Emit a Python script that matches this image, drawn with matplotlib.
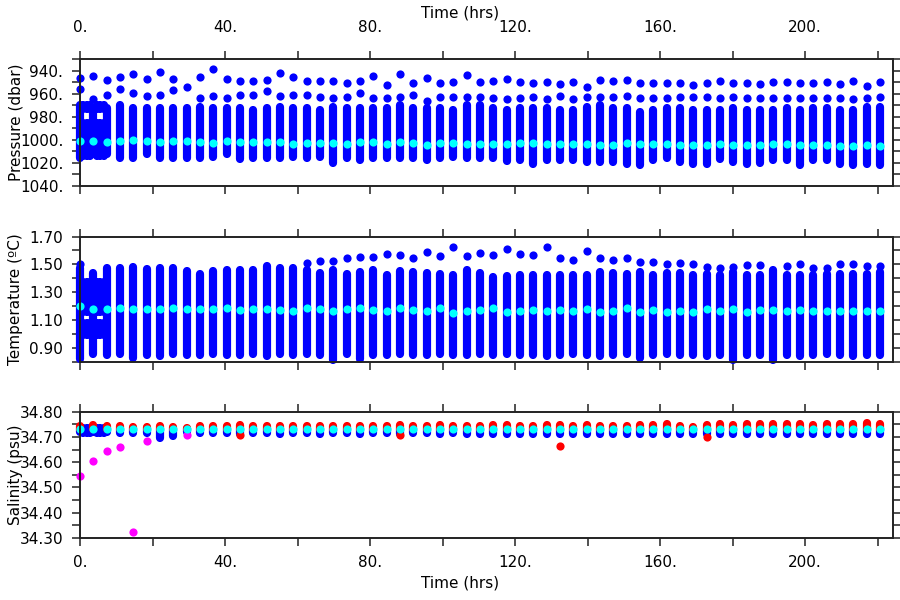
import matplotlib
matplotlib.use("Agg")
import matplotlib.pyplot as plt
from matplotlib.ticker import MultipleLocator, FixedLocator, FuncFormatter

# cast times (hrs)
cast_hours = [0.00, 3.68, 7.35, 11.03, 14.71, 18.39, 22.06, 25.74, 29.42, 33.09,
              36.77, 40.45, 44.12, 47.80, 51.48, 55.16, 58.83, 62.51, 66.19, 69.86,
              73.54, 77.22, 80.89, 84.57, 88.25, 91.93, 95.60, 99.28, 102.96, 106.63,
              110.31, 113.99, 117.66, 121.34, 125.02, 128.70, 132.37, 136.05, 139.73, 143.40,
              147.08, 150.76, 154.43, 158.11, 161.79, 165.47, 169.14, 172.82, 176.50, 180.17,
              183.85, 187.53, 191.20, 194.88, 198.56, 202.24, 205.91, 209.59, 213.27, 216.94,
              220.62]
nan = float("nan")

# extra closely spaced casts at the start of the record
early_hours = [0.9, 1.8, 2.8, 4.6, 5.5, 6.5]

# ---- pressure (dbar)
p_top1 = [946.0, 944.5, 948.0, 945.1, 942.8, 946.6, 940.8, 946.8, 954.1, 945.4,
          938.5, 946.6, 948.6, 948.9, 948.0, 942.2, 945.7, 948.6, 948.6, 948.6,
          950.3, 948.6, 944.5, 952.6, 942.8, 950.3, 946.0, 950.3, 949.7, 943.7,
          949.5, 948.6, 946.6, 949.5, 950.3, 950.0, 951.5, 950.0, 954.4, 947.7,
          948.9, 947.7, 950.6, 950.6, 950.3, 950.6, 952.3, 950.3, 948.9, 950.6,
          950.9, 951.8, 950.0, 950.0, 950.6, 950.9, 949.5, 951.2, 948.6, 952.9,
          950.0]
p_top2 = [956.1, 964.8, 961.0, 955.5, 959.6, 961.9, 960.5, 957.0, nan, 963.9,
          961.9, 963.3, 961.0, 961.0, 957.6, 961.9, 961.0, 960.5, 962.5, 963.3,
          962.5, 959.0, 963.3, 963.9, 962.5, 960.5, 965.9, 963.0, 962.5, 962.5,
          962.5, 963.3, 964.8, 963.3, 962.5, 964.8, 961.6, 964.2, 962.8, 962.8,
          962.8, 962.2, 963.3, 963.9, 963.3, 963.0, 962.8, 962.8, 963.3, 963.0,
          963.3, 963.3, 963.9, 963.3, 963.3, 963.9, 963.3, 963.3, 964.2, 963.9,
          962.5]
p_col_top = [969.7, 972.6, 972.6, 969.7, 972.6, 972.6, 972.6, 972.6, 972.0, 971.2,
             972.6, 972.6, 972.6, 974.0, 972.6, 971.2, 972.6, 972.6, 974.0, 971.2,
             972.6, 972.6, 972.6, 972.6, 969.7, 972.6, 972.6, 972.6, 974.0, 969.7,
             969.7, 972.6, 974.0, 972.6, 972.6, 972.6, 974.0, 974.0, 971.2, 969.7,
             972.6, 972.6, 975.5, 974.0, 972.6, 972.0, 974.0, 974.0, 974.0, 972.6,
             974.0, 974.0, 974.0, 972.6, 974.0, 972.6, 972.6, 974.0, 974.0, 971.2,
             971.2]
p_col_bot = [1015.4, 1012.5, 1012.5, 1015.4, 1015.4, 1012.5, 1015.4, 1015.4, 1015.4, 1015.4,
             1014.6, 1012.5, 1016.6, 1015.4, 1015.4, 1015.4, 1014.6, 1015.4, 1014.6, 1019.8,
             1015.4, 1017.5, 1015.4, 1015.4, 1015.4, 1015.4, 1017.8, 1015.4, 1014.6, 1016.0,
             1015.4, 1015.4, 1018.3, 1017.8, 1021.2, 1017.8, 1017.8, 1017.8, 1018.9, 1018.9,
             1018.9, 1021.2, 1021.8, 1017.8, 1015.4, 1018.9, 1020.6, 1021.2, 1016.6, 1018.9,
             1021.2, 1019.8, 1017.8, 1017.8, 1021.8, 1017.8, 1017.8, 1021.2, 1021.8, 1021.2,
             1021.8]
p_mean = [1001.0, 1001.0, 1001.5, 1001.0, 1000.4, 1001.0, 1001.5, 1001.0, 1001.0, 1001.5,
          1002.4, 1001.0, 1002.1, 1002.1, 1001.5, 1001.5, 1003.3, 1002.4, 1003.0, 1003.0,
          1003.9, 1002.1, 1001.5, 1003.3, 1002.1, 1003.0, 1004.4, 1003.0, 1003.0, 1003.3,
          1003.3, 1003.3, 1003.3, 1003.0, 1003.0, 1003.9, 1003.9, 1003.9, 1003.3, 1004.4,
          1004.4, 1002.4, 1003.9, 1003.3, 1003.6, 1004.4, 1004.4, 1004.4, 1003.9, 1004.4,
          1004.4, 1004.4, 1003.3, 1003.3, 1004.4, 1004.4, 1004.4, 1005.0, 1005.0, 1004.4,
          1005.3]
early_p_lo = [969.5, 985.0]
early_p_hi = [973.0, 1013.5]

# ---- temperature (deg C)
t_top = [1.505, nan, nan, nan, nan, nan, nan, nan, nan, nan,
         nan, nan, nan, nan, nan, nan, nan, 1.510, 1.522, 1.522,
         1.548, 1.553, 1.553, 1.577, 1.565, 1.546, 1.589, 1.558, 1.621, 1.558,
         1.584, 1.565, 1.609, 1.572, 1.570, 1.625, 1.548, 1.529, 1.596, 1.548,
         1.529, 1.546, 1.517, 1.517, 1.505, 1.512, 1.500, 1.481, 1.474, 1.483,
         1.493, 1.493, nan, 1.488, 1.500, 1.474, 1.476, 1.500, 1.500, 1.486,
         1.486]
t_col_top = [1.470, 1.440, 1.476, 1.476, 1.481, 1.469, 1.476, 1.474, 1.450, 1.433,
             1.450, 1.459, 1.459, 1.459, 1.488, 1.474, 1.474, 1.457, 1.440, 1.457,
             1.430, 1.445, 1.457, 1.426, 1.450, 1.445, 1.440, 1.430, 1.426, 1.462,
             1.438, 1.409, 1.416, 1.426, 1.426, 1.426, 1.421, 1.426, 1.421, 1.445,
             1.440, 1.433, 1.445, 1.426, 1.440, 1.440, 1.421, 1.433, 1.426, 1.445,
             1.426, 1.426, 1.457, 1.426, 1.426, 1.426, 1.433, 1.433, 1.433, 1.433,
             1.445]
t_col_bot = [0.815, 0.855, 0.848, 0.855, 0.825, 0.848, 0.838, 0.855, 0.848, 0.848,
             0.855, 0.848, 0.848, 0.855, 0.838, 0.855, 0.848, 0.855, 0.848, 0.812,
             0.855, 0.815, 0.848, 0.848, 0.855, 0.848, 0.848, 0.855, 0.848, 0.848,
             0.855, 0.848, 0.855, 0.848, 0.848, 0.838, 0.848, 0.855, 0.848, 0.838,
             0.848, 0.855, 0.825, 0.848, 0.855, 0.848, 0.848, 0.838, 0.848, 0.812,
             0.848, 0.848, 0.812, 0.848, 0.838, 0.848, 0.855, 0.848, 0.838, 0.848,
             0.848]
t_mean = [1.199, 1.180, 1.180, 1.185, 1.175, 1.180, 1.175, 1.185, 1.180, 1.175,
          1.175, 1.187, 1.168, 1.175, 1.180, 1.173, 1.163, 1.185, 1.180, 1.161,
          1.175, 1.185, 1.168, 1.161, 1.185, 1.168, 1.161, 1.185, 1.149, 1.163,
          1.168, 1.185, 1.156, 1.163, 1.168, 1.166, 1.168, 1.161, 1.180, 1.156,
          1.161, 1.185, 1.156, 1.173, 1.156, 1.166, 1.156, 1.175, 1.161, 1.178,
          1.154, 1.168, 1.168, 1.161, 1.168, 1.161, 1.166, 1.166, 1.166, 1.166,
          1.163]
early_t_lo = [1.290, 1.160, 0.990]
early_t_hi = [1.370, 1.250, 1.080]

# ---- salinity (psu)
s_red_top = [34.744, 34.746, 34.744, 34.744, 34.740, 34.740, 34.744, 34.740, 34.737, 34.744,
             34.744, 34.744, 34.746, 34.744, 34.744, 34.744, 34.744, 34.744, 34.744, 34.744,
             34.744, 34.744, 34.744, 34.744, 34.746, 34.744, 34.744, 34.746, 34.744, 34.744,
             34.744, 34.746, 34.746, 34.744, 34.744, 34.746, 34.746, 34.744, 34.746, 34.744,
             34.744, 34.744, 34.746, 34.746, 34.750, 34.744, 34.740, 34.746, 34.750, 34.746,
             34.750, 34.753, 34.750, 34.750, 34.750, 34.746, 34.750, 34.750, 34.753, 34.756,
             34.750]
s_blue_bot = [34.718, 34.718, 34.718, 34.715, 34.715, 34.715, 34.696, 34.702, 34.718, 34.715,
              34.715, 34.715, 34.713, 34.715, 34.715, 34.713, 34.715, 34.715, 34.713, 34.715,
              34.715, 34.713, 34.715, 34.715, 34.713, 34.715, 34.715, 34.713, 34.715, 34.713,
              34.713, 34.713, 34.711, 34.713, 34.713, 34.711, 34.713, 34.713, 34.711, 34.713,
              34.713, 34.711, 34.713, 34.713, 34.711, 34.713, 34.713, 34.711, 34.713, 34.711,
              34.713, 34.711, 34.713, 34.713, 34.711, 34.713, 34.711, 34.711, 34.713, 34.711,
              34.711]
s_mean = [34.731, 34.731, 34.731, 34.731, 34.731, 34.730, 34.731, 34.731, 34.732, 34.731,
          34.731, 34.731, 34.731, 34.731, 34.731, 34.731, 34.731, 34.731, 34.731, 34.731,
          34.731, 34.731, 34.731, 34.731, 34.731, 34.731, 34.731, 34.731, 34.731, 34.731,
          34.731, 34.731, 34.731, 34.731, 34.730, 34.731, 34.730, 34.731, 34.731, 34.730,
          34.731, 34.730, 34.731, 34.731, 34.731, 34.731, 34.730, 34.730, 34.731, 34.731,
          34.731, 34.731, 34.730, 34.731, 34.731, 34.730, 34.731, 34.731, 34.731, 34.731,
          34.731]
s_magenta = [34.546, 34.604, 34.645, 34.659, 34.324, 34.683, nan, nan, 34.706]
red_low_cast = [12, 24, 36, 47]
red_low_sal = [34.706, 34.706, 34.663, 34.698]
early_s_lo = [34.716]
early_s_hi = [34.736]

BLUE = "#0000ff"
CYAN = "#00ffff"
RED = "#ff0000"
MAGENTA = "#ff00ff"
FRAME = "#222222"
DOT = 5.9

plt.rcParams["font.family"] = "DejaVu Sans"
plt.rcParams["font.size"] = 11

fig = plt.figure(figsize=(9, 6), dpi=100)
ax_p = fig.add_axes([0.0889, 0.690, 0.9033, 0.2110])
ax_t = fig.add_axes([0.0889, 0.3975, 0.9033, 0.2083])
ax_s = fig.add_axes([0.0889, 0.1038, 0.9033, 0.2100])


def columns(ax, xs, lo, hi, color):
    ax.vlines(xs, lo, hi, colors=color, linewidth=DOT, capstyle="round", clip_on=False)


def dots(ax, xs, ys, color):
    ax.plot(xs, ys, "o", color=color, markersize=DOT, markeredgewidth=0, clip_on=False)


# pressure panel
columns(ax_p, cast_hours, p_col_top, p_col_bot, BLUE)
for lo, hi in zip(early_p_lo, early_p_hi):
    columns(ax_p, early_hours, [lo] * len(early_hours), [hi] * len(early_hours), BLUE)
dots(ax_p, cast_hours, p_top1, BLUE)
dots(ax_p, cast_hours, p_top2, BLUE)
dots(ax_p, cast_hours, p_mean, CYAN)

# temperature panel
columns(ax_t, cast_hours, t_col_bot, t_col_top, BLUE)
for lo, hi in zip(early_t_lo, early_t_hi):
    columns(ax_t, early_hours, [lo] * len(early_hours), [hi] * len(early_hours), BLUE)
dots(ax_t, cast_hours, t_top, BLUE)
dots(ax_t, cast_hours, t_mean, CYAN)

# salinity panel
columns(ax_s, cast_hours, s_blue_bot, s_mean, BLUE)
for lo, hi in zip(early_s_lo, early_s_hi):
    columns(ax_s, early_hours, [lo] * len(early_hours), [hi] * len(early_hours), BLUE)
columns(ax_s, cast_hours, s_mean, s_red_top, RED)
dots(ax_s, [cast_hours[i] for i in red_low_cast], red_low_sal, RED)
dots(ax_s, cast_hours[:len(s_magenta)], s_magenta, MAGENTA)
dots(ax_s, cast_hours, s_mean, CYAN)

# axes styling
for ax in (ax_p, ax_t, ax_s):
    ax.set_xlim(0, 224.2)
    ax.xaxis.set_major_locator(FixedLocator([0, 40, 80, 120, 160, 200]))
    ax.xaxis.set_minor_locator(FixedLocator([20, 60, 100, 140, 180, 220]))
    ax.xaxis.set_major_formatter(FuncFormatter(lambda v, pos: f"{v:.0f}."))
    ax.tick_params(which="both", direction="out", length=6, width=1.1, color=FRAME,
                   top=True, right=True, labeltop=False, labelbottom=False,
                   labelsize=11, pad=6)
    for sp in ax.spines.values():
        sp.set_linewidth(1.4)
        sp.set_color(FRAME)

ax_p.set_ylim(1040, 930)
ax_p.yaxis.set_major_locator(MultipleLocator(20))
ax_p.yaxis.set_minor_locator(MultipleLocator(10))
ax_p.yaxis.set_major_formatter(FuncFormatter(lambda v, pos: f"{v:.0f}."))
ax_p.set_ylabel("Pressure (dbar)")

ax_t.set_ylim(0.80, 1.70)
ax_t.yaxis.set_major_locator(FixedLocator([0.9, 1.1, 1.3, 1.5, 1.7]))
ax_t.yaxis.set_minor_locator(MultipleLocator(0.1))
ax_t.yaxis.set_major_formatter(FuncFormatter(lambda v, pos: f"{v:.2f}"))
ax_t.set_ylabel("Temperature (\u00baC)")

ax_s.set_ylim(34.30, 34.80)
ax_s.yaxis.set_major_locator(MultipleLocator(0.1))
ax_s.yaxis.set_minor_locator(MultipleLocator(0.05))
ax_s.yaxis.set_major_formatter(FuncFormatter(lambda v, pos: f"{v:.2f}"))
ax_s.set_ylabel("Salinity (psu)")

for ax in (ax_p, ax_t, ax_s):
    ax.yaxis.set_label_coords(-0.070, 0.5)

ax_p.tick_params(axis="x", labeltop=True, pad=11.5)
ax_p.xaxis.set_label_position("top")
ax_p.set_xlabel("Time (hrs)")
ax_p.xaxis.set_label_coords(0.467, 1.33)

ax_s.tick_params(axis="x", labelbottom=True, pad=6.5)
ax_s.set_xlabel("Time (hrs)")
ax_s.xaxis.set_label_coords(0.467, -0.30)

fig.savefig("out.png", dpi=100, facecolor="white")
